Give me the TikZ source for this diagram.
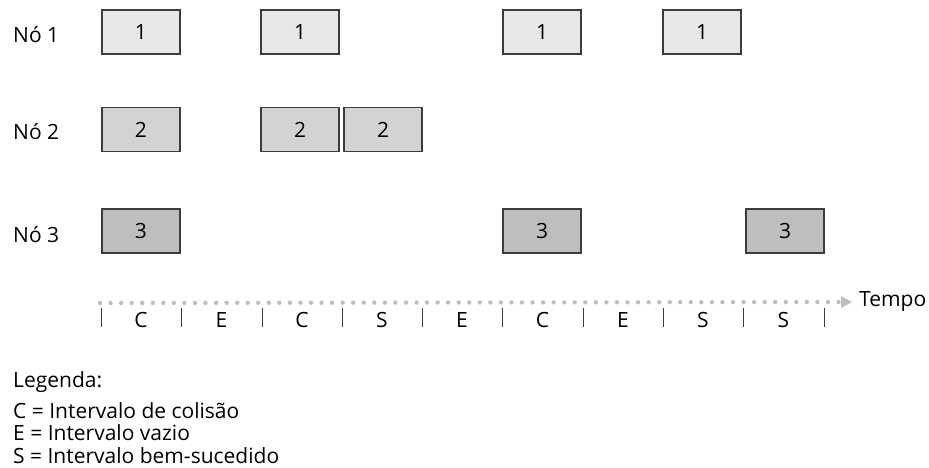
\documentclass[tikz,border=0pt]{standalone}
\usepackage{fontspec}
\setmainfont{Open Sans}
\usetikzlibrary{arrows.meta}
\definecolor{slotone}{HTML}{E6E7E8}
\definecolor{slottwo}{HTML}{D1D3D4}
\definecolor{slotthree}{HTML}{BCBEC0}
\definecolor{dotgray}{HTML}{BCBEC0}
\definecolor{inkgray}{HTML}{3C3C3C}

\begin{document}
\begin{tikzpicture}[x=1pt,y=-1pt,
txt/.style={font=\fontsize{21}{25}\selectfont,inner sep=0pt,text=black},
frame/.style={txt,draw=inkgray,line width=1.2pt,minimum width=78pt,minimum height=44pt},
nodeone/.style={frame,fill=slotone},
nodetwo/.style={frame,fill=slottwo},
nodethree/.style={frame,fill=slotthree},
tick/.style={draw=inkgray,line width=1pt},
timeline/.style={draw=dotgray,line width=4.4pt,line cap=round,dash pattern=on 0pt off 10.55pt,
  -{Triangle[length=11pt,width=12pt,line width=0pt,fill=dotgray]}}]
\useasboundingbox (0,0) rectangle (929,468);
% row labels
\node[txt,anchor=base west] (row1) at (13,43) {Nó 1};
\node[txt,anchor=base west] (row2) at (13,140) {Nó 2};
\node[txt,anchor=base west] (row3) at (13,242) {Nó 3};
% transmissions
\node[nodeone] (a1) at (141,32) {1};
\node[nodeone] (a3) at (300,32) {1};
\node[nodeone] (a6) at (542,32) {1};
\node[nodeone] (a8) at (702,32) {1};
\node[nodetwo] (b1) at (141,129.5) {2};
\node[nodetwo] (b3) at (300,129.5) {2};
\node[nodetwo] (b4) at (383,129.5) {2};
\node[nodethree] (c1) at (141,231) {3};
\node[nodethree] (c6) at (542,231) {3};
\node[nodethree] (c9) at (785,231) {3};
% time axis
\coordinate (tl) at (100,303);
\node[txt,anchor=west] (tempo) at (859,302) {Tempo};
\draw[timeline] (tl) -- ([xshift=-7pt]tempo.west);
\draw[tick] (101,308) -- (101,327);
\draw[tick] (181,308) -- (181,327);
\draw[tick] (262,308) -- (262,327);
\draw[tick] (342,308) -- (342,327);
\draw[tick] (422,308) -- (422,327);
\draw[tick] (502,308) -- (502,327);
\draw[tick] (583,308) -- (583,327);
\draw[tick] (663,308) -- (663,327);
\draw[tick] (743,308) -- (743,327);
\draw[tick] (824,308) -- (824,327);
\node[txt,anchor=base] (s1) at (141,327) {C};
\node[txt,anchor=base] (s2) at (221.5,327) {E};
\node[txt,anchor=base] (s3) at (302,327) {C};
\node[txt,anchor=base] (s4) at (382,327) {S};
\node[txt,anchor=base] (s5) at (462,327) {E};
\node[txt,anchor=base] (s6) at (542.5,327) {C};
\node[txt,anchor=base] (s7) at (623,327) {E};
\node[txt,anchor=base] (s8) at (703,327) {S};
\node[txt,anchor=base] (s9) at (783.5,327) {S};
% legend
\node[txt,anchor=base west] (leg) at (13,387) {Legenda:};
\node[txt,anchor=base west] (legc) at (13,418) {C = Intervalo de colisão};
\node[txt,anchor=base west] (lege) at (13,440.5) {E = Intervalo vazio};
\node[txt,anchor=base west] (legs) at (13,463) {S = Intervalo bem-sucedido};
\end{tikzpicture}
\end{document}
